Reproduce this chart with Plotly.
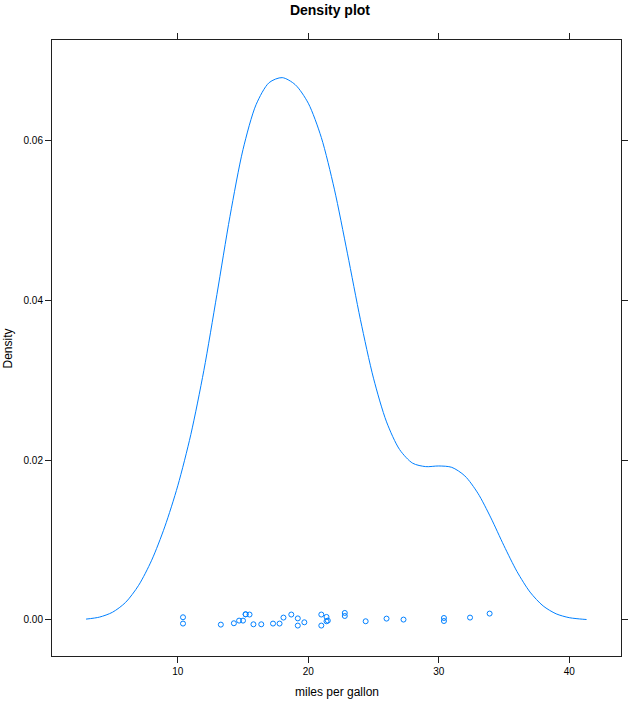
import plotly.graph_objects as go

# Density curve (miles per gallon -> density)
curve_mpg = [2.97, 4, 5, 6, 7, 8, 9, 10, 11, 12, 13, 14, 15, 16, 17, 18, 19, 20, 21,
             22, 23, 24, 25, 26, 27, 28, 29, 30, 31, 32, 33, 34, 35, 36, 37, 38, 39,
             40, 41, 41.33]
curve_density = [0.00011, 0.00036, 0.00097, 0.0022, 0.00434, 0.00748, 0.01165, 0.0168,
                 0.02322, 0.03125, 0.04075, 0.05053, 0.0589, 0.06451, 0.06727, 0.0679,
                 0.06702, 0.0647, 0.06041, 0.05394, 0.04592, 0.03759, 0.03027, 0.0248,
                 0.02134, 0.01963, 0.0192, 0.01928, 0.01911, 0.01804, 0.01587, 0.01278,
                 0.0093, 0.00606, 0.00349, 0.00176, 0.00077, 0.00029, 0.0001, 0.00006]

# Observations (mpg) with their jittered heights as drawn
obs_mpg = [10.4, 10.4, 13.3, 14.3, 14.7, 15.0, 15.2, 15.2, 15.5, 15.8, 16.4, 17.3,
           17.8, 18.1, 18.7, 19.2, 19.2, 19.7, 21.0, 21.0, 21.4, 21.4, 21.5, 22.8,
           22.8, 24.4, 26.0, 27.3, 30.4, 30.4, 32.4, 33.9]
obs_jitter = [0.00034, -0.00045, -0.00058, -0.00041, -0.00008, -0.00008, 0.0007, 0.00072,
              0.00068, -0.00054, -0.00054, -0.00045, -0.00045, 0.0003, 0.00068, 0.0002,
              -0.0007, -0.00029, 0.00068, -0.0007, 0.00038, -0.00016, -0.00008, 0.00088,
              0.0005, -0.00016, 0.00017, 0.00005, 0.00025, -0.00013, 0.0003, 0.0008]

x_ticks = [10, 20, 30, 40]
y_ticks = [0.0, 0.02, 0.04, 0.06]
y_ticktext = ["0.00", "0.02", "0.04", "0.06"]

blue = "#0080ff"
font_family = "Liberation Sans, Arial, sans-serif"

fig = go.Figure()
fig.add_trace(go.Scatter(x=curve_mpg, y=curve_density, mode="lines",
                         line=dict(color=blue, width=1, shape="spline", smoothing=0.8),
                         hoverinfo="skip", showlegend=False))
fig.add_trace(go.Scatter(x=obs_mpg, y=obs_jitter, mode="markers",
                         marker=dict(symbol="circle-open", size=5, color=blue,
                                     line=dict(color=blue, width=1)),
                         showlegend=False))

axis_common = dict(showline=True, linecolor="#202020", linewidth=1, mirror="ticks",
                   ticks="outside", ticklen=6, tickcolor="#202020", tickwidth=1,
                   showgrid=False, zeroline=False,
                   tickfont=dict(family=font_family, size=10, color="#000000"))

fig.update_layout(
    width=640, height=701,
    margin=dict(l=52, r=13, t=40, b=45),
    paper_bgcolor="white", plot_bgcolor="white",
    font=dict(family=font_family, color="#000000"),
    title=dict(text="<b>Density plot</b>", x=0.5156, xanchor="center",
               y=1 - 10 / 701, yanchor="middle",
               font=dict(family=font_family, size=14, color="#000000")),
    xaxis=dict(range=[0.36, 43.97], tickvals=x_ticks, **axis_common),
    yaxis=dict(range=[-0.00451, 0.07261], tickvals=y_ticks, ticktext=y_ticktext,
               **axis_common),
    annotations=[
        dict(text="miles per gallon", xref="paper", yref="paper", x=0.501, y=-0.059,
             xanchor="center", yanchor="middle", showarrow=False,
             font=dict(family=font_family, size=12, color="#000000")),
        dict(text="Density", xref="paper", yref="paper", x=-0.0765, y=0.5,
             xanchor="center", yanchor="middle", textangle=-90, showarrow=False,
             font=dict(family=font_family, size=12, color="#000000")),
    ],
)

fig.write_html("out.html",
               config={"displayModeBar": False},
               post_script="document.body.style.margin='0';document.body.style.overflow='hidden';")
